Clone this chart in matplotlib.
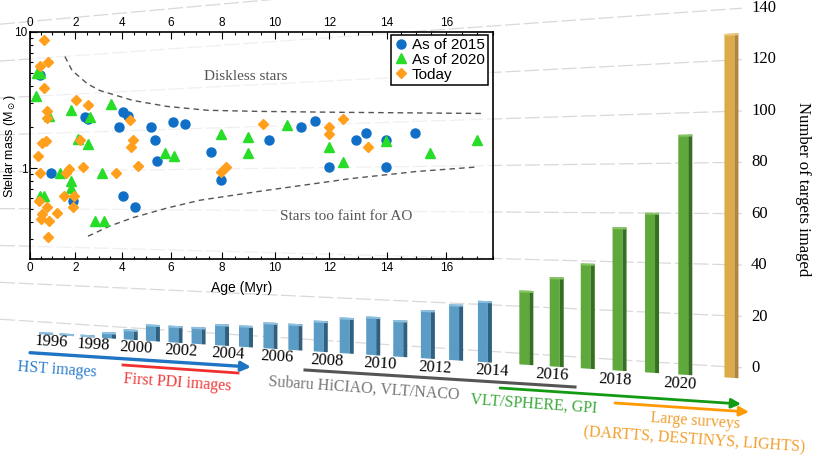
import numpy as np
import matplotlib
matplotlib.use("Agg")
import matplotlib.pyplot as plt
from matplotlib.transforms import Transform
from matplotlib.ticker import MultipleLocator, NullFormatter, StrMethodFormatter

plt.rcParams['font.family'] = ['Liberation Serif', 'DejaVu Serif']

# ---- number of targets imaged per year ----
years_early = list(range(1996, 2015))
counts_early = [1, 1, 1, 3, 5, 8, 8, 8, 10, 10, 12, 12, 14, 16, 17, 16, 21, 24, 26]
years_sphere = list(range(2015, 2021))
counts_sphere = [31, 37, 43, 58, 64, 95]
count_today = 134
year_labels = list(range(1996, 2021, 2))
right_ticks = list(range(0, 141, 20))

# ---- inset: stellar mass vs age ----
age_2015 = [0.45, 0.94, 2.44, 2.55, 1.92, 4.04, 4.24, 3.85, 4.04, 4.55, 5.18, 5.36, 5.45,
            6.06, 6.56, 7.57, 7.98, 9.79, 10.96, 11.47, 11.97, 12.95, 13.27, 13.97, 13.97, 14.97]
mass_2015 = [4.81, 0.92, 2.39, 2.29, 0.57, 2.58, 2.40, 2.01, 0.62, 0.52, 2.01, 1.61, 1.12,
             2.20, 2.10, 1.32, 0.82, 1.61, 2.00, 2.21, 1.02, 1.61, 1.80, 1.62, 1.02, 1.80]
age_2020 = [0.30, 0.45, 0.26, 0.85, 0.45, 0.64, 1.34, 1.82, 1.82, 1.82, 2.10, 2.53, 2.62, 2.84,
            3.22, 3.16, 3.54, 5.75, 6.14, 7.98, 9.02, 9.02, 10.46, 11.97, 12.48, 13.97, 15.47, 16.99]
mass_2020 = [5.04, 4.96, 3.39, 2.42, 0.62, 0.62, 0.92, 0.81, 0.71, 2.68, 1.63, 1.51, 2.39, 0.41,
             0.41, 0.92, 2.96, 1.30, 1.22, 1.79, 1.68, 1.30, 2.09, 1.42, 1.11, 1.59, 1.30, 1.60]
age_today = [0.64, 0.45, 0.82, 0.63, 0.75, 0.75, 0.55, 0.70, 0.35, 0.45, 0.42, 0.55, 0.49,
             0.75, 0.85, 0.82, 1.22, 1.53, 1.95, 1.92, 1.59, 1.73, 2.03, 2.22, 2.33, 2.53,
             3.73, 4.34, 4.37, 4.46, 4.65, 7.97, 8.18, 9.57, 11.97, 11.97, 12.48, 13.36]
mass_today = [8.73, 5.66, 5.98, 3.86, 2.62, 2.32, 1.52, 1.59, 1.22, 0.92, 0.57, 0.46, 0.42,
              0.52, 0.41, 0.31, 0.47, 0.62, 0.62, 0.52, 0.92, 0.98, 3.19, 1.61, 1.02, 2.91,
              0.92, 2.27, 1.42, 1.62, 1.03, 0.93, 1.02, 2.10, 2.01, 1.79, 2.29, 1.42]
diskless_age = [1.55, 1.86, 2.52, 3.05, 4.45, 5.84, 7.45, 9.45, 12.5, 17.2]
diskless_mass = [6.6, 5.22, 4.17, 3.72, 3.14, 2.84, 2.66, 2.61, 2.57, 2.52]
faint_age = [2.55, 3.49, 4.45, 5.84, 7.15, 9.45, 12.72, 14.97, 17.0]
faint_mass = [0.316, 0.376, 0.433, 0.509, 0.581, 0.676, 0.836, 0.943, 1.02]

# ---- perspective of the bar "room" (pixel space) ----
VX, CX, VY = -2204, 2939, 192
P0, Q = 1.3062, 0.011844
YS = 360 / 140
GAP = 0.4        # green group sits a bit further right
TODAY_X = 2021.75


def bar_xy(x, v):
    k = 1 / (P0 - Q * (x - 1996))
    return VX + CX * k, VY + (378 - YS * v - VY) * k


def wall_xy(X, v):
    k = (X + 1888) / 2633
    return X, 195.6 + (368 - YS * v - 195.6) * k


class Warp(Transform):
    input_dims = output_dims = 2

    def __init__(self, func):
        super().__init__()
        self.func = func

    def transform_non_affine(self, values):
        values = np.atleast_2d(np.asarray(values, dtype=float))
        X, Y = self.func(values[:, 0], values[:, 1])
        return np.column_stack([X, Y])


fig = plt.figure(figsize=(8.14, 4.58), dpi=100)
ax = fig.add_axes([0, 0, 1, 1])
ax.set_xlim(0, 814)
ax.set_ylim(458, 0)
ax.axis('off')
bar_tf = Warp(bar_xy) + ax.transData
wall_tf = Warp(wall_xy) + ax.transData

# back wall gridlines + right axis
for v in range(0, 161, 20):
    ax.plot([0, 742], [v, v], color='#d9d9d9', lw=0.9, ls=(0, (12, 3)), transform=wall_tf, zorder=0)
for v in right_ticks:
    ax.text(751, v, str(v), transform=wall_tf, ha='left', va='center', fontsize=12)
ax.text(803, 189, 'Number of targets imaged', rotation=-90, ha='center', va='center', fontsize=12)


def draw_bars(xs, vals, front, side, top):
    xs = np.asarray(xs, dtype=float)
    vals = np.asarray(vals, dtype=float)
    k = 1 / (P0 - Q * (xs - 1996))
    px = CX * Q * k ** 2            # pixels per year at that depth
    wf, ws = 10 / px, 4 / px
    cap = np.minimum(2 / (YS * k), vals)
    left = xs - (wf + ws) / 2
    for bars in (ax.bar(left, vals, wf, align='edge', color=front, lw=0),
                 ax.bar(left + wf, vals, ws, align='edge', color=side, lw=0),
                 ax.bar(left, cap, wf + ws, bottom=vals - cap, align='edge', color=top, lw=0)):
        for b in bars:
            b.set_transform(bar_tf)


draw_bars(years_early, counts_early, '#5b9cc6', '#2f607f', '#8dc0e0')
draw_bars(np.array(years_sphere) + GAP, counts_sphere, '#5ea83c', '#34701f', '#84c462')
draw_bars([TODAY_X], [count_today], '#dcaa48', '#b2863a', '#ebc77e')

for yr in year_labels:
    ax.text(yr + 0.25, -3.7, str(yr), transform=bar_tf, ha='center', va='center',
            fontsize=12, rotation=-3)

# instrument eras
ax.annotate('', xy=(251, 367), xytext=(30, 352.7),
            arrowprops=dict(arrowstyle='-|>', color='#1f74c4', lw=2.4, mutation_scale=14,
                            shrinkA=0, shrinkB=0))
ax.plot([123, 238], [365, 373], color='#f03030', lw=2)
ax.plot([305, 575], [370, 387], color='#555555', lw=2.2)
ax.annotate('', xy=(741, 404), xytext=(500, 388),
            arrowprops=dict(arrowstyle='-|>', color='#139a13', lw=2, mutation_scale=14,
                            shrinkA=0, shrinkB=0))
ax.annotate('', xy=(749, 412), xytext=(615, 403),
            arrowprops=dict(arrowstyle='-|>', color='#ff9900', lw=2, mutation_scale=14,
                            shrinkA=0, shrinkB=0))
era_kw = dict(ha='center', va='center', fontsize=11.5, rotation=-4, rotation_mode='anchor')
ax.text(57, 370, 'HST images', color='#2c7fcc', **era_kw)
ax.text(177, 383, 'First PDI images', color='#f03a3a', **era_kw)
ax.text(364, 388, 'Subaru HiCIAO, VLT/NACO', color='#777777', **era_kw)
ax.text(534, 404, 'VLT/SPHERE, GPI', color='#3aaa3a', **era_kw)
ax.text(695, 421, 'Large surveys', color='#f0a030', **era_kw)
ax.text(694, 440, '(DARTTS, DESTINYS, LIGHTS)', color='#f0a030', **era_kw)

# ---- inset ----
QA = 0.00918
ins = fig.add_axes([30 / 814, 199 / 458, 463 / 814, 227 / 458])
ins.set_facecolor((1, 1, 1, 0.6))
ins.set_xscale('function', functions=(lambda t: QA * t / (1 - QA * t),
                                      lambda u: u / (QA * (1 + u))))
ins.set_yscale('log')
ins.set_xlim(0, 17.5)
ins.set_ylim(0.215, 10)
ins.xaxis.set_major_locator(MultipleLocator(2))
ins.xaxis.set_minor_locator(MultipleLocator(0.5))
ins.xaxis.set_major_formatter(StrMethodFormatter('{x:.0f}'))
ins.yaxis.set_major_formatter(StrMethodFormatter('{x:g}'))
ins.yaxis.set_minor_formatter(NullFormatter())
ins.tick_params(which='both', direction='in', top=True, right=False, labeltop=True,
                labelsize=8.5, width=0.8, pad=2)
ins.tick_params(which='major', length=5)
ins.tick_params(which='minor', length=2.5)
for lab in ins.get_xticklabels() + ins.get_yticklabels():
    lab.set_family('Liberation Sans')
for sp in ins.spines.values():
    sp.set_linewidth(1.2)

ins.plot(diskless_age, diskless_mass, color='#555555', lw=1, ls=(0, (4, 3)))
ins.plot(faint_age, faint_mass, color='#555555', lw=1, ls=(0, (4, 3)))
ins.text(8.9, 4.69, 'Diskless stars', color='#555555', fontsize=11, ha='center', va='center')
ins.text(12.6, 0.443, 'Stars too faint for AO', color='#555555', fontsize=11, ha='center', va='center')

ins.plot(age_2015, mass_2015, 'o', ms=6.5, color='#0f6fc6', ls='none', label='As of 2015')
ins.plot(age_2020, mass_2020, '^', ms=7, color='#27dd27', ls='none', label='As of 2020')
ins.plot(age_today, mass_today, 'D', ms=5.5, color='#ff9f1c', ls='none', label='Today')

ins.set_xlabel('Age (Myr)', fontsize=10, family='Liberation Sans')
ins.xaxis.set_label_coords(0.456, -0.097)
ins.set_ylabel('Stellar mass (M$_\\odot$)', fontsize=9, family='Liberation Sans')
ins.yaxis.set_label_coords(-0.026, 0.498)

leg = ins.legend(loc='upper right', bbox_to_anchor=(0.989, 0.987), fancybox=False, framealpha=1,
                 edgecolor='black', prop={'family': 'Liberation Sans', 'size': 11},
                 handlelength=0.9, handletextpad=0.3, borderpad=0.2, labelspacing=0.05,
                 borderaxespad=0)
leg.get_frame().set_linewidth(1.1)

fig.savefig('out.png', dpi=100, facecolor='white')
